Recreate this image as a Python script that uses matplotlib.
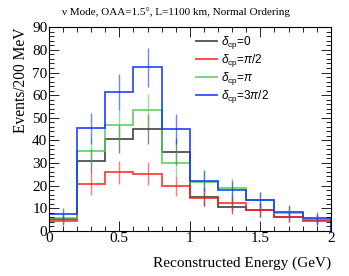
import numpy as np
import matplotlib
matplotlib.use("Agg")
import matplotlib.pyplot as plt
from matplotlib.ticker import MultipleLocator

# bin edges (GeV) and event counts per 200 MeV bin
edges = np.arange(0, 2.01, 0.2)
dcp0 = [5.2, 30.7, 40.6, 44.9, 35.0, 15.0, 10.6, 9.2, 6.2, 4.7]
dcp_pi2 = [4.3, 20.5, 25.8, 25.2, 19.8, 14.6, 12.1, 9.2, 6.2, 4.3]
dcp_pi = [5.8, 35.1, 46.6, 53.3, 29.8, 21.7, 19.0, 13.6, 8.0, 5.0]
dcp_3pi2 = [7.3, 45.3, 61.4, 72.3, 45.1, 22.1, 17.9, 13.6, 8.4, 5.8]
labels = [r"$\delta_{\rm cp}$=0", r"$\delta_{\rm cp}$=$\pi$/2",
          r"$\delta_{\rm cp}$=$\pi$", r"$\delta_{\rm cp}$=3$\pi$/2"]
colors = ["#333333", "#ff2020", "#55cc55", "#1030ff"]
xticks = [0, 0.5, 1, 1.5, 2]
xticklabels = ["0", "0.5", "1", "1.5", "2"]
yticks = list(range(0, 91, 10))

plt.rcParams["mathtext.fontset"] = "custom"
plt.rcParams["mathtext.rm"] = "Liberation Sans"
plt.rcParams["mathtext.it"] = "Liberation Sans:italic"

fig = plt.figure(figsize=(3.49, 2.76), dpi=100)
ax = fig.add_axes([0.140, 0.164, 0.808, 0.737])

centers = (edges[:-1] + edges[1:]) / 2
for vals, c, lab in zip([dcp0, dcp_pi2, dcp_pi, dcp_3pi2], colors, labels):
    vals = np.array(vals)
    ax.stairs(vals, edges, color=c, lw=1.3, alpha=0.85, label=lab)
    ax.errorbar(centers, vals, yerr=np.sqrt(vals), fmt="none", ecolor=c,
                elinewidth=1.0, alpha=0.6, capsize=0)

ax.set_xlim(0, 2)
ax.set_ylim(0, 90)
ax.set_xticks(xticks, xticklabels, fontfamily="Liberation Serif")
ax.set_yticks(yticks, [str(v) for v in yticks], fontfamily="Liberation Serif")
ax.xaxis.set_minor_locator(MultipleLocator(0.1))
ax.yaxis.set_minor_locator(MultipleLocator(2))
ax.tick_params(which="both", direction="in", top=True, right=True, width=0.6)
ax.tick_params(which="major", length=7, labelsize=11, pad=1)
ax.tick_params(which="minor", length=3.5)
for s in ax.spines.values():
    s.set_linewidth(0.8)

ax.set_xlabel("Reconstructed Energy (GeV)", fontfamily="Liberation Serif",
              fontsize=11, loc="right", labelpad=8)
ax.set_ylabel("Events/200 MeV", fontfamily="Liberation Serif",
              fontsize=11.2, loc="top", labelpad=2)
fig.text(0.505, 0.955, "ν Mode, OAA=1.5°, L=1100 km, Normal Ordering",
         fontfamily="Liberation Serif", fontsize=8, ha="center", va="center")

leg = ax.legend(loc="upper left", bbox_to_anchor=(0.505, 0.99), frameon=False,
                prop={"family": "Liberation Sans", "size": 8.5},
                handlelength=1.8, handletextpad=0.35, labelspacing=0.08,
                borderaxespad=0)

fig.savefig("out.png", dpi=100)
